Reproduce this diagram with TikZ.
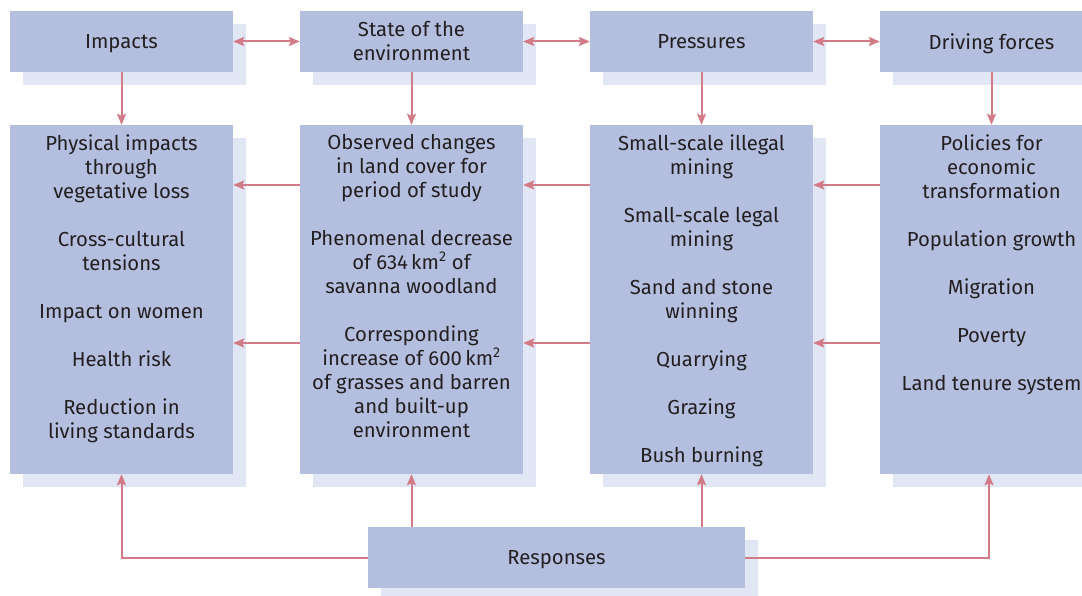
\documentclass[tikz,border=0pt]{standalone}
\usepackage{fontspec}
\setmainfont{Fira Sans}
\usetikzlibrary{arrows.meta,shadows}
\definecolor{boxc}{HTML}{B4BFE0}
\definecolor{shadc}{HTML}{E0E6F4}
\definecolor{arrc}{HTML}{D27A86}
\definecolor{txtc}{HTML}{231F20}
\tikzset{
  box/.style={fill=boxc, draw=none, inner sep=0pt, minimum width=223pt,
    general shadow={fill=shadc, shadow xshift=13pt, shadow yshift=-13pt},
    text=txtc, align=center, font=\fontsize{20.3}{24}\selectfont},
  oneline/.style={text depth=0pt},
  txt/.style={text=txtc, align=center, inner sep=0pt, anchor=north,
    font=\fontsize{20.3}{24}\selectfont},
  arr/.style={draw=arrc, line width=2pt, -{Stealth[length=11pt,width=9pt,inset=2pt]}},
  darr/.style={draw=arrc, line width=2pt, {Stealth[length=11pt,width=9pt,inset=2pt]}-{Stealth[length=11pt,width=9pt,inset=2pt]}}
}
\begin{document}
\begin{tikzpicture}[x=1pt,y=-1pt]
\useasboundingbox (0,0) rectangle (1082,596);
\clip (0,0) rectangle (1082,596);
% top boxes
\node[box, oneline, minimum height=61pt] (imp) at (121.5,41.5) {Impacts};
\node[box, minimum height=61pt] (st) at (411.5,41.5) {State of the\\environment};
\node[box, oneline, minimum height=61pt] (pr) at (701.5,41.5) {Pressures};
\node[box, oneline, minimum height=61pt] (df) at (991.5,41.5) {Driving forces};
% big boxes
\node[box, minimum height=349pt] (impB) at (121.5,299.5) {};
\node[box, minimum height=349pt] (stB) at (411.5,299.5) {};
\node[box, minimum height=349pt] (prB) at (701.5,299.5) {};
\node[box, minimum height=349pt] (dfB) at (991.5,299.5) {};
% responses
\node[box, oneline, minimum width=377pt, minimum height=61pt] (resp) at (556.5,557.5) {Responses};
% texts
\node[txt] (impT) at (121.5,134) {Physical impacts\\through\\vegetative loss\\[24pt]Cross-cultural\\tensions\\[24pt]Impact on women\\[24pt]Health risk\\[24pt]Reduction in\\living standards};
\node[txt] (stT) at (411.5,134) {Observed changes\\in land cover for\\period of study\\[24pt]Phenomenal decrease\\of 634\,km\textsuperscript{2} of\\savanna woodland\\[24pt]Corresponding\\increase of 600\,km\textsuperscript{2}\\of grasses and barren\\and built-up\\environment};
\node[txt] (prT) at (701.5,134) {Small-scale illegal\\mining\\[24pt]Small-scale legal\\mining\\[24pt]Sand and stone\\winning\\[24pt]Quarrying\\[24pt]Grazing\\[24pt]Bush burning};
\node[txt] (dfT) at (991.5,134) {Policies for\\economic\\transformation\\[24pt]Population growth\\[24pt]Migration\\[24pt]Poverty\\[24pt]Land tenure system};
% top double arrows
\draw[darr] (imp.east) -- (st.west);
\draw[darr] (st.east) -- (pr.west);
\draw[darr] (pr.east) -- (df.west);
% vertical arrows
\draw[arr] (imp.south) -- (impB.north);
\draw[arr] (st.south) -- (stB.north);
\draw[arr] (pr.south) -- (prB.north);
\draw[arr] (df.south) -- (dfB.north);
% middle arrows
\foreach \yy in {185,343}{
  \draw[arr] (stB.west |- 0,\yy) -- (impB.east |- 0,\yy);
  \draw[arr] (prB.west |- 0,\yy) -- (stB.east |- 0,\yy);
  \draw[arr] (dfB.west |- 0,\yy) -- (prB.east |- 0,\yy);
}
% responses arrows
\draw[arr] (resp.west) -| (impB.south);
\draw[arr] (resp.east) -| ([xshift=-2.5pt]dfB.south);
\draw[arr] (stB.south |- resp.north) -- (stB.south);
\draw[arr] (prB.south |- resp.north) -- (prB.south);
\end{tikzpicture}
\end{document}
